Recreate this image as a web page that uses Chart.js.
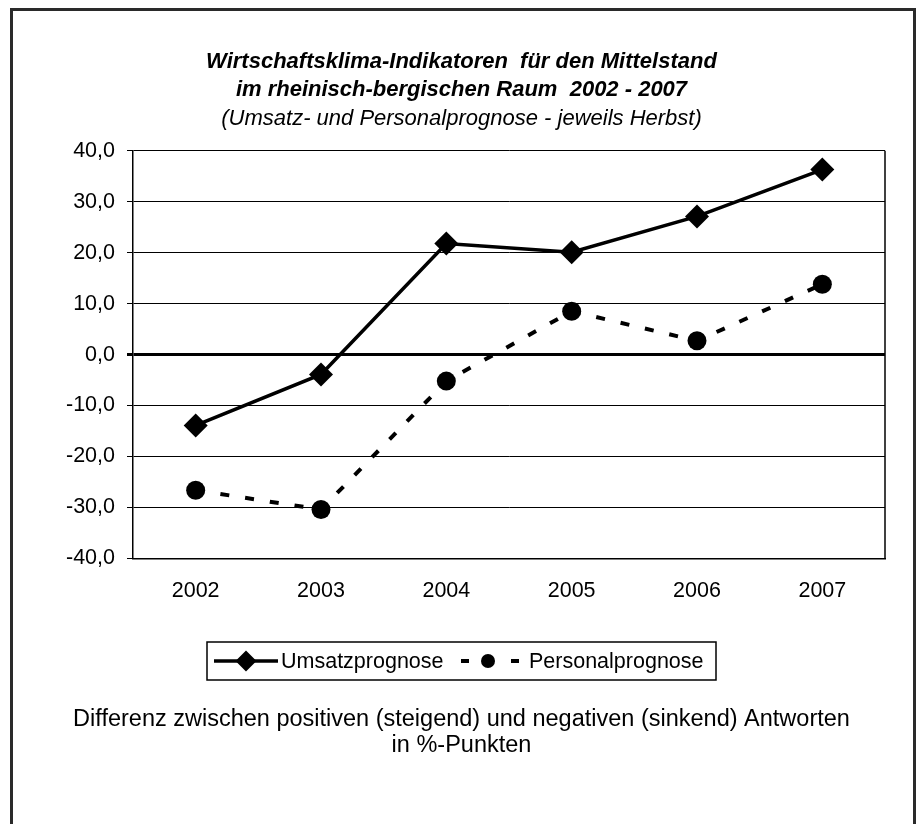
<!DOCTYPE html>
<html>
<head>
<meta charset="utf-8">
<script src="https://cdn.jsdelivr.net/npm/chart.js@4/dist/chart.umd.min.js"></script>
<style>
  html, body { margin: 0; padding: 0; background: #fff; }
  #wrap { position: relative; width: 923px; height: 824px; overflow: hidden; }
  #frame {
    position: absolute; left: 10px; top: 8px; width: 906px; height: 900px;
    box-sizing: border-box; border: 3px solid #2a2a2a;
  }
  #chart { position: absolute; left: 0; top: 0; }
</style>
</head>
<body>
<div id="wrap">
  <div id="frame"></div>
  <canvas id="chart" width="923" height="824"></canvas>
</div>
<script>
const years = ['2002', '2003', '2004', '2005', '2006', '2007'];
const umsatz = [-13.9, -3.9, 21.8, 20.1, 27.1, 36.3];
const personal = [-26.6, -30.4, -5.2, 8.5, 2.7, 13.8];
const yTicks = [-40, -30, -20, -10, 0, 10, 20, 30, 40];

const titleLines = ['Wirtschaftsklima-Indikatoren  für den Mittelstand', 'im rheinisch-bergischen Raum  2002 - 2007'];
const subtitleText = '(Umsatz- und Personalprognose - jeweils Herbst)';
const footerLines = ['Differenz zwischen positiven (steigend) und negativen (sinkend) Antworten', 'in %-Punkten'];

const FONT = "'Liberation Sans', Arial, sans-serif";
Chart.defaults.font.family = FONT;
Chart.defaults.color = '#000';

// legend box + footer drawn below the axis
const extrasPlugin = {
    id: 'extras',
    afterDraw(chart) {
        const ctx = chart.ctx;
        const a = chart.chartArea;
        ctx.save();

        // right edge of plot frame
        ctx.strokeStyle = '#000';
        ctx.lineWidth = 1.5;
        ctx.beginPath();
        ctx.moveTo(a.right, a.top);
        ctx.lineTo(a.right, a.bottom);
        ctx.stroke();

        // legend box
        ctx.lineWidth = 1.5;
        ctx.strokeRect(207, 642, 509, 38);
        const ly = 661;
        ctx.font = '21.5px ' + FONT;
        ctx.textBaseline = 'middle';
        ctx.fillStyle = '#000';

        ctx.lineWidth = 3.5;
        ctx.beginPath();
        ctx.moveTo(214, ly);
        ctx.lineTo(278, ly);
        ctx.stroke();
        Chart.helpers.drawPoint(ctx, { pointStyle: 'rectRot', radius: 8, borderWidth: 1 }, 246, ly);
        ctx.fill();
        ctx.fillText('Umsatzprognose', 281, ly + 1);

        ctx.fillRect(461, ly - 2, 8, 4);
        ctx.fillRect(511, ly - 2, 8, 4);
        ctx.beginPath();
        ctx.arc(488, ly, 7, 0, Math.PI * 2);
        ctx.fill();
        ctx.fillText('Personalprognose', 529, ly + 1);

        // footer
        ctx.font = '23.5px ' + FONT;
        ctx.textAlign = 'center';
        ctx.fillText(footerLines[0], 461.5, 720);
        ctx.fillText(footerLines[1], 461.5, 746);
        ctx.restore();
    }
};

new Chart(document.getElementById('chart').getContext('2d'), {
    type: 'line',
    data: {
        labels: years,
        datasets: [
            {
                label: 'Umsatzprognose',
                data: umsatz,
                borderColor: '#000',
                backgroundColor: '#000',
                borderWidth: 3.5,
                pointStyle: 'rectRot',
                pointRadius: 12,
                pointBorderWidth: 0,
                tension: 0
            },
            {
                label: 'Personalprognose',
                data: personal,
                borderColor: '#000',
                backgroundColor: '#000',
                borderWidth: 4,
                borderDash: [9, 16],
                pointStyle: 'circle',
                pointRadius: 9.5,
                pointBorderWidth: 0,
                tension: 0
            }
        ]
    },
    options: {
        responsive: false,
        animation: false,
        layout: { padding: { left: 38, right: 38, top: 0, bottom: 215.5 } },
        plugins: {
            legend: { display: false },
            tooltip: { enabled: false },
            title: {
                display: true,
                text: titleLines,
                font: { size: 22, weight: 'bold', style: 'italic', lineHeight: 28 / 22 },
                padding: { top: 48, bottom: 0 }
            },
            subtitle: {
                display: true,
                text: subtitleText,
                color: '#000',
                font: { size: 22, style: 'italic', lineHeight: 28 / 22 },
                padding: { top: 1, bottom: 17.7 }
            }
        },
        scales: {
            x: {
                offset: true,
                grid: { display: false, drawTicks: false },
                border: { display: true, color: '#000', width: 1.5 },
                ticks: { font: { size: 21.5 }, padding: 20 },
                afterFit(s) { s.height = 50; }
            },
            y: {
                min: -40,
                max: 40,
                afterBuildTicks(s) { s.ticks = yTicks.map(v => ({ value: v })); },
                ticks: {
                    font: { size: 21.5 },
                    padding: 12,
                    callback: v => v.toFixed(1).replace('.', ',')
                },
                grid: {
                    color: '#000',
                    lineWidth: c => (c.tick && c.tick.value === 0) ? 3 : 1,
                    tickLength: 6
                },
                border: { color: '#000', width: 1.5 },
                afterFit(s) { s.width = 95; }
            }
        }
    },
    plugins: [extrasPlugin]
});
</script>
</body>
</html>
